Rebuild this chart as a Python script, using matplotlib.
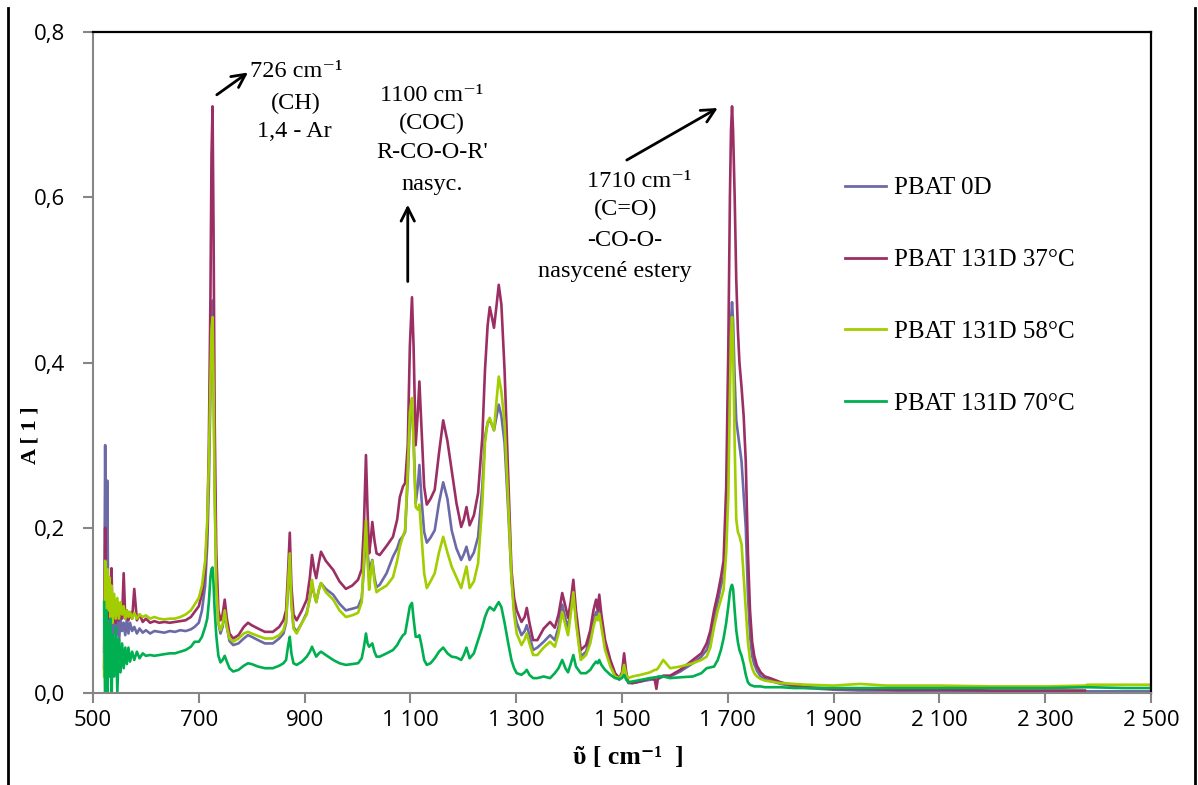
import numpy as np
import matplotlib
matplotlib.use('Agg')
import matplotlib.pyplot as plt
from matplotlib.lines import Line2D

# --- DATA: FTIR spektra PBAT (vlnočet v cm-1, absorbance A) ---
vlnocet = [
    # 520-700 (zašuměná oblast)
    521, 523, 525, 527, 529, 531, 533, 535, 537, 540, 543, 546, 549, 552, 555, 558, 561, 564,
    567, 570, 574, 578, 583, 588, 594, 600, 608, 616, 625, 635, 645, 655, 665, 675, 685, 692,
    # 700-885
    700, 706, 712, 716, 719, 722, 724, 726, 728, 730, 733, 737, 741, 745, 749, 753, 758, 765,
    775, 785, 793, 800, 812, 825, 840, 852, 860, 865, 869, 872, 875, 879, 885,
    # 895-1090
    895, 904, 910, 914, 918, 922, 927, 931, 940, 954, 966, 978, 990, 1001, 1008, 1012, 1016,
    1019, 1022, 1025, 1028, 1032, 1036, 1042, 1055, 1067, 1075, 1080, 1086, 1090,
    # 1095-1340
    1095, 1099, 1103, 1106, 1110, 1114, 1117, 1121, 1126, 1131, 1138, 1146, 1154, 1162, 1170,
    1178, 1187, 1196, 1201, 1206, 1212, 1220, 1228, 1236, 1241, 1246, 1250, 1254, 1258, 1263,
    1267, 1272, 1278, 1285, 1291, 1296, 1301, 1310, 1316, 1320, 1325, 1332, 1340,
    # 1350-1690
    1352, 1364, 1373, 1380, 1387, 1393, 1398, 1403, 1408, 1413, 1422, 1432, 1440, 1446, 1451,
    1454, 1457, 1461, 1468, 1478, 1487, 1495, 1500, 1504, 1508, 1512, 1520, 1535, 1553, 1562,
    1565, 1568, 1578, 1591, 1610, 1634, 1650, 1660, 1667, 1674, 1681, 1687,
    # 1690-2500
    1692, 1697, 1701, 1704, 1706, 1708, 1710, 1713, 1716, 1719, 1722, 1726, 1730, 1734, 1738,
    1742, 1746, 1750, 1755, 1762, 1770, 1780, 1800, 1825, 1850, 1900, 1950, 2000, 2100, 2200,
    2300, 2375, 2380, 2450, 2500,
]

pbat_0d = [
    0.05, 0.30, 0.06, 0.257, 0.08, 0.12, 0.07, 0.11, 0.065, 0.10, 0.07, 0.095, 0.06, 0.09, 0.075, 0.085, 0.07, 0.09,
    0.072, 0.085, 0.075, 0.08, 0.072, 0.078, 0.073, 0.076, 0.072, 0.075, 0.074, 0.073, 0.075, 0.074, 0.076, 0.075, 0.077, 0.08,
    0.085, 0.10, 0.13, 0.18, 0.25, 0.36, 0.44, 0.475, 0.38, 0.25, 0.14, 0.085, 0.072, 0.08, 0.097, 0.08, 0.063, 0.058,
    0.06, 0.066, 0.07, 0.068, 0.064, 0.06, 0.06, 0.066, 0.072, 0.085, 0.13, 0.165, 0.11, 0.08, 0.074,
    0.085, 0.097, 0.115, 0.131, 0.12, 0.11, 0.125, 0.133, 0.126, 0.119, 0.108, 0.10, 0.102, 0.104, 0.115, 0.15, 0.20,
    0.17, 0.149, 0.155, 0.161, 0.14, 0.128, 0.131, 0.145, 0.165, 0.175, 0.185, 0.19, 0.195,
    0.26, 0.33, 0.345, 0.31, 0.23, 0.25, 0.276, 0.235, 0.195, 0.182, 0.188, 0.197, 0.23, 0.255, 0.235,
    0.197, 0.175, 0.161, 0.168, 0.177, 0.161, 0.17, 0.189, 0.25, 0.31, 0.327, 0.33, 0.325, 0.318, 0.335,
    0.349, 0.335, 0.303, 0.22, 0.14, 0.10, 0.085, 0.07, 0.075, 0.082, 0.07, 0.052, 0.055,
    0.062, 0.07, 0.064, 0.08, 0.107, 0.09, 0.079, 0.10, 0.125, 0.09, 0.044, 0.05, 0.067, 0.085, 0.098,
    0.092, 0.103, 0.085, 0.056, 0.035, 0.02, 0.016, 0.022, 0.04, 0.022, 0.012, 0.012, 0.014, 0.016, 0.017,
    0.015, 0.017, 0.02, 0.02, 0.026, 0.036, 0.044, 0.052, 0.065, 0.088, 0.11, 0.13,
    0.14, 0.20, 0.30, 0.40, 0.45, 0.473, 0.45, 0.38, 0.33, 0.315, 0.30, 0.28, 0.24, 0.20, 0.12,
    0.07, 0.045, 0.035, 0.027, 0.02, 0.017, 0.015, 0.011, 0.008, 0.006, 0.004, 0.003, 0.003, 0.002, 0.002,
    0.002, 0.002, 0.002, 0.002, 0.002,
]

pbat_37 = [
    0.03, 0.20, 0.10, 0.13, 0.09, 0.12, 0.085, 0.151, 0.09, 0.11, 0.085, 0.10, 0.088, 0.105, 0.09, 0.145, 0.09, 0.10,
    0.088, 0.098, 0.09, 0.126, 0.088, 0.095, 0.086, 0.09, 0.085, 0.087, 0.085, 0.086, 0.085, 0.086, 0.087, 0.088, 0.092, 0.098,
    0.105, 0.12, 0.15, 0.20, 0.30, 0.48, 0.65, 0.71, 0.55, 0.33, 0.17, 0.10, 0.088, 0.095, 0.113, 0.09, 0.072, 0.066,
    0.07, 0.08, 0.085, 0.082, 0.078, 0.074, 0.074, 0.08, 0.088, 0.10, 0.15, 0.194, 0.13, 0.095, 0.088,
    0.10, 0.113, 0.14, 0.167, 0.15, 0.139, 0.158, 0.171, 0.16, 0.149, 0.135, 0.126, 0.13, 0.137, 0.15, 0.20, 0.288,
    0.22, 0.169, 0.185, 0.207, 0.185, 0.169, 0.167, 0.178, 0.189, 0.21, 0.237, 0.25, 0.254,
    0.30, 0.42, 0.479, 0.42, 0.30, 0.34, 0.377, 0.32, 0.25, 0.228, 0.235, 0.246, 0.29, 0.33, 0.305,
    0.27, 0.23, 0.201, 0.21, 0.225, 0.203, 0.215, 0.242, 0.31, 0.391, 0.445, 0.467, 0.455, 0.442, 0.47,
    0.494, 0.47, 0.391, 0.26, 0.149, 0.115, 0.10, 0.086, 0.092, 0.103, 0.085, 0.064, 0.064,
    0.078, 0.086, 0.079, 0.095, 0.121, 0.105, 0.091, 0.11, 0.137, 0.10, 0.052, 0.058, 0.076, 0.10, 0.113,
    0.10, 0.119, 0.095, 0.064, 0.04, 0.024, 0.018, 0.025, 0.048, 0.025, 0.013, 0.012, 0.014, 0.018, 0.016,
    0.005, 0.018, 0.021, 0.021, 0.028, 0.04, 0.048, 0.06, 0.075, 0.10, 0.12, 0.14,
    0.16, 0.25, 0.42, 0.60, 0.68, 0.71, 0.68, 0.60, 0.50, 0.44, 0.40, 0.37, 0.335, 0.28, 0.17,
    0.10, 0.062, 0.045, 0.033, 0.025, 0.02, 0.018, 0.013, 0.009, 0.007, 0.005, 0.005, 0.004, 0.004, 0.003,
    0.003, 0.003, None, None, None,
]

pbat_58 = [
    0.02, 0.16, 0.08, 0.15, 0.10, 0.14, 0.09, 0.13, 0.085, 0.12, 0.09, 0.115, 0.09, 0.11, 0.095, 0.105, 0.09, 0.10,
    0.092, 0.098, 0.09, 0.097, 0.09, 0.095, 0.092, 0.094, 0.09, 0.092, 0.09, 0.089, 0.09, 0.09, 0.092, 0.095, 0.10, 0.107,
    0.115, 0.13, 0.16, 0.21, 0.28, 0.38, 0.44, 0.455, 0.37, 0.24, 0.13, 0.085, 0.076, 0.083, 0.10, 0.08, 0.066, 0.062,
    0.066, 0.072, 0.074, 0.072, 0.069, 0.066, 0.066, 0.07, 0.076, 0.088, 0.135, 0.169, 0.11, 0.078, 0.072,
    0.085, 0.095, 0.115, 0.137, 0.12, 0.11, 0.125, 0.133, 0.122, 0.113, 0.10, 0.092, 0.094, 0.097, 0.11, 0.16, 0.209,
    0.16, 0.125, 0.145, 0.16, 0.135, 0.122, 0.125, 0.13, 0.14, 0.16, 0.177, 0.19, 0.197,
    0.27, 0.34, 0.357, 0.30, 0.225, 0.222, 0.228, 0.19, 0.145, 0.127, 0.135, 0.145, 0.17, 0.189, 0.17,
    0.153, 0.14, 0.127, 0.14, 0.153, 0.127, 0.135, 0.157, 0.23, 0.303, 0.328, 0.333, 0.325, 0.318, 0.355,
    0.383, 0.365, 0.327, 0.23, 0.14, 0.095, 0.072, 0.058, 0.065, 0.072, 0.06, 0.046, 0.046,
    0.055, 0.062, 0.056, 0.072, 0.098, 0.082, 0.07, 0.095, 0.122, 0.085, 0.04, 0.046, 0.06, 0.08, 0.092,
    0.088, 0.096, 0.08, 0.052, 0.032, 0.02, 0.018, 0.022, 0.034, 0.022, 0.018, 0.02, 0.022, 0.025, 0.028,
    0.028, 0.03, 0.04, 0.03, 0.032, 0.036, 0.04, 0.044, 0.055, 0.08, 0.10, 0.113,
    0.125, 0.17, 0.24, 0.36, 0.43, 0.455, 0.42, 0.30, 0.21, 0.195, 0.19, 0.18, 0.14, 0.10, 0.062,
    0.04, 0.03, 0.024, 0.02, 0.017, 0.015, 0.014, 0.012, 0.011, 0.01, 0.009, 0.011, 0.009, 0.009, 0.008,
    0.008, 0.009, 0.01, 0.01, 0.01,
]

pbat_70 = [
    0.11, -0.02, 0.10, -0.02, 0.08, 0.02, 0.09, -0.02, 0.07, 0.02, 0.08, 0.0, 0.065, 0.025, 0.06, 0.03, 0.055, 0.035,
    0.055, 0.038, 0.05, 0.04, 0.05, 0.042, 0.048, 0.045, 0.046, 0.045, 0.046, 0.047, 0.048, 0.048, 0.05, 0.052, 0.056, 0.062,
    0.062, 0.068, 0.08, 0.09, 0.11, 0.14, 0.15, 0.152, 0.13, 0.10, 0.07, 0.045, 0.037, 0.04, 0.045, 0.038, 0.03, 0.026,
    0.028, 0.033, 0.036, 0.035, 0.032, 0.03, 0.03, 0.033, 0.036, 0.04, 0.058, 0.068, 0.048, 0.036, 0.034,
    0.038, 0.044, 0.05, 0.056, 0.05, 0.044, 0.048, 0.05, 0.046, 0.04, 0.036, 0.034, 0.035, 0.036, 0.042, 0.055, 0.072,
    0.06, 0.056, 0.058, 0.06, 0.05, 0.044, 0.044, 0.048, 0.052, 0.058, 0.064, 0.07, 0.072,
    0.09, 0.105, 0.109, 0.09, 0.068, 0.068, 0.07, 0.058, 0.04, 0.034, 0.036, 0.042, 0.05, 0.055, 0.048,
    0.044, 0.043, 0.04, 0.046, 0.055, 0.042, 0.048, 0.064, 0.08, 0.092, 0.10, 0.104, 0.102, 0.10, 0.106,
    0.11, 0.104, 0.085, 0.06, 0.04, 0.03, 0.024, 0.022, 0.025, 0.028, 0.022, 0.018, 0.018,
    0.02, 0.018, 0.024, 0.03, 0.04, 0.03, 0.025, 0.035, 0.046, 0.032, 0.024, 0.024, 0.028, 0.034, 0.038,
    0.036, 0.04, 0.034, 0.028, 0.022, 0.018, 0.017, 0.018, 0.022, 0.016, 0.013, 0.014, 0.016, 0.018, 0.019,
    0.019, 0.02, 0.02, 0.018, 0.019, 0.02, 0.024, 0.03, 0.031, 0.032, 0.04, 0.052,
    0.066, 0.085, 0.105, 0.122, 0.128, 0.131, 0.126, 0.10, 0.076, 0.062, 0.052, 0.045, 0.035, 0.022, 0.013,
    0.01, 0.009, 0.008, 0.008, 0.008, 0.007, 0.007, 0.007, 0.006, 0.006, 0.006, 0.006, 0.006, 0.006, 0.006,
    0.006, 0.007, 0.007, 0.006, 0.006,
]

nazvy_serii = ['PBAT 0D', 'PBAT 131D 37°C', 'PBAT 131D 58°C', 'PBAT 131D 70°C']
barvy_serii = ['#6C6AA6', '#9B2F63', '#A2CD00', '#00B050']

x_ticks = [500, 700, 900, 1100, 1300, 1500, 1700, 1900, 2100, 2300, 2500]
y_ticks = [0.0, 0.2, 0.4, 0.6, 0.8]

# popisky pásů
pas_726 = ['726 cm⁻¹', '(CH)', '1,4 - Ar']
pas_1100 = ['1100 cm⁻¹', '(COC)', "R-CO-O-R'", 'nasyc.']
pas_1710 = ['1710 cm⁻¹', '(C=O)', '-CO-O-', 'nasycené estery']

SERIF = ['Liberation Serif', 'DejaVu Serif']
SEDA = '#868686'


def formatuj_x(v):
    return f"{v:,}".replace(',', ' ')


def formatuj_y(v):
    return f"{v:.1f}".replace('.', ',')


def popis_pasu(ax, radky, x_stredy, y_radky):
    for text, x, y in zip(radky, x_stredy, y_radky):
        ax.text(x, y, text, ha='center', va='center', family=SERIF, fontsize=17.5, clip_on=False)


def sipka(ax, odkud, kam):
    ax.annotate('', xy=kam, xytext=odkud,
                arrowprops=dict(arrowstyle='->', lw=2, color='black', mutation_scale=24,
                                shrinkA=0, shrinkB=0),
                annotation_clip=False)


def main():
    plt.rcParams['font.family'] = ['Open Sans', 'DejaVu Sans']

    fig = plt.figure(figsize=(11.98, 7.85), dpi=100)
    ax = fig.add_axes([93 / 1198, 1 - 693 / 785, (1151 - 93) / 1198, (693 - 32) / 785])

    x = np.array(vlnocet, dtype=float)
    serie = [pbat_0d, pbat_37, pbat_58, pbat_70]
    for hodnoty, nazev, barva in zip(serie, nazvy_serii, barvy_serii):
        y = np.array(hodnoty, dtype=float)
        assert len(y) == len(x), nazev
        ax.plot(x, y, color=barva, lw=1.9, label=nazev, solid_joinstyle='round')

    ax.set_xlim(500, 2500)
    ax.set_ylim(0, 0.8)
    ax.set_xticks(x_ticks)
    ax.set_xticklabels([formatuj_x(v) for v in x_ticks])
    ax.set_yticks(y_ticks)
    ax.set_yticklabels([formatuj_y(v) for v in y_ticks])
    ax.tick_params(axis='both', direction='out', length=7, width=1.5, color=SEDA,
                   labelsize=16, labelcolor='black')
    ax.tick_params(axis='x', pad=5)
    ax.tick_params(axis='y', pad=13)

    for strana in ['left', 'bottom']:
        ax.spines[strana].set_color(SEDA)
        ax.spines[strana].set_linewidth(1.5)
    for strana in ['top', 'right']:
        ax.spines[strana].set_color('black')
        ax.spines[strana].set_linewidth(1.6)

    ax.set_ylabel('A [ 1 ]', family=SERIF, fontweight='bold', fontsize=16)
    ax.yaxis.set_label_coords(-0.0595, 0.39)
    ax.yaxis.label.set_va('center')
    ax.set_xlabel('ῦ [ cm⁻¹  ]', family=SERIF, fontweight='bold', fontsize=18.5)
    ax.xaxis.set_label_coords(0.506, -0.097)
    ax.xaxis.label.set_va('center')

    # popisky pásů a šipky
    popis_pasu(ax, pas_726, [884, 884, 881], [0.752, 0.713, 0.680])
    popis_pasu(ax, pas_1100, [1141, 1141, 1141, 1141], [0.723, 0.689, 0.654, 0.615])
    popis_pasu(ax, pas_1710, [1532, 1506, 1506, 1486], [0.619, 0.585, 0.548, 0.510])
    sipka(ax, (734, 0.724), (793, 0.751))
    sipka(ax, (1095, 0.498), (1095, 0.591))
    sipka(ax, (1509, 0.645), (1681, 0.708))

    leg = ax.legend(loc='upper left', bbox_to_anchor=(845 / 1198, 1 - 177 / 785),
                    bbox_transform=fig.transFigure, frameon=False, borderpad=0, borderaxespad=0,
                    handlelength=1.65, handletextpad=0.3, labelspacing=1.97,
                    prop={'family': SERIF, 'size': 18})
    for h in leg.get_lines():
        h.set_linewidth(2)

    # svislé okraje grafu
    for xp in [8, 1195]:
        fig.add_artist(Line2D([xp / 1198, xp / 1198], [0, 1 - 8 / 785], color='black', lw=2))

    fig.savefig('out.png', dpi=100)


if __name__ == '__main__':
    main()
